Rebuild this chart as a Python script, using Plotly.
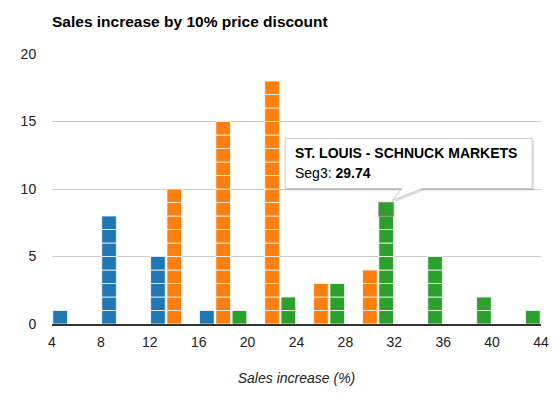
import plotly.graph_objects as go

# ---- data ----
bucket_starts = [4, 8, 12, 16, 20, 24, 28, 32, 36, 40]
bucket_size = 4
series_names = ["Seg1", "Seg2", "Seg3"]
seg1_counts = [1, 8, 5, 1, 0, 0, 0, 0, 0, 0]
seg2_counts = [0, 0, 10, 15, 18, 3, 4, 0, 0, 0]
seg3_counts = [0, 0, 0, 1, 2, 3, 9, 5, 2, 1]
series_colors = ["#1f77b4", "#ff7f0e", "#2ca02c"]
x_ticks = [4, 8, 12, 16, 20, 24, 28, 32, 36, 40, 44]
y_ticks = [0, 5, 10, 15, 20]

# highlighted item (tooltip)
hl_series = 2
hl_bucket = 28
hl_label = "ST. LOUIS - SCHNUCK MARKETS"
hl_value = 29.74

FONT = "Arial, Liberation Sans, sans-serif"
fig = go.Figure()

all_counts = [seg1_counts, seg2_counts, seg3_counts]
for si, counts in enumerate(all_counts):
    xs, bases, lcol, lw = [], [], [], []
    for b, c in zip(bucket_starts, counts):
        for k in range(c):
            xs.append(b + bucket_size / 2)
            bases.append(k)
            is_hl = (si == hl_series and b == hl_bucket and k == c - 1)
            lcol.append("rgba(130,130,130,0.65)" if is_hl else "rgba(255,255,255,0.75)")
            lw.append(1.6 if is_hl else 1)
    fig.add_trace(go.Bar(
        x=xs, y=[1] * len(xs), base=bases, name=series_names[si],
        marker=dict(color=series_colors[si], line=dict(color=lcol, width=lw)),
        hoverinfo="skip", showlegend=False,
    ))

# tooltip anchored at the highlighted block
hl_idx = bucket_starts.index(hl_bucket)
ax_x = hl_bucket + bucket_size / 2 + (hl_series - 1) * bucket_size / 3
ax_y = all_counts[hl_series][hl_idx]

L, R, T, B = -101, 146, 64, 14  # box extents in px relative to anchor (up positive)
box_path = (f"M {L},{T} L {R},{T} L {R},{B} L {36},{B} L 6,2 L {16},{B} L {L},{B} Z")
shadow_path = (f"M {L+2},{T-2} L {R+2},{T-2} L {R+2},{B-2} L {38},{B-2} L 8,0 L {18},{B-2} L {L+2},{B-2} Z")
fig.add_shape(type="path", xref="x", yref="y", xsizemode="pixel", ysizemode="pixel",
              xanchor=ax_x, yanchor=ax_y, path=shadow_path,
              fillcolor="rgba(0,0,0,0.12)", line=dict(width=0), layer="above")
fig.add_shape(type="path", xref="x", yref="y", xsizemode="pixel", ysizemode="pixel",
              xanchor=ax_x, yanchor=ax_y, path=box_path,
              fillcolor="white", line=dict(color="#cccccc", width=1), layer="above")

fig.add_annotation(x=ax_x, y=ax_y, xref="x", yref="y", showarrow=False,
                   xanchor="left", yanchor="middle", xshift=L + 8, yshift=50,
                   text=f"<b>{hl_label}</b>", font=dict(family=FONT, size=14, color="#000"))
fig.add_annotation(x=ax_x, y=ax_y, xref="x", yref="y", showarrow=False,
                   xanchor="left", yanchor="middle", xshift=L + 8, yshift=30,
                   text=f"{series_names[hl_series]}: <b>{hl_value}</b>",
                   font=dict(family=FONT, size=14, color="#000"))

fig.update_layout(
    width=555, height=396,
    margin=dict(l=52, r=14, t=54, b=71.5, pad=0),
    paper_bgcolor="white", plot_bgcolor="white",
    barmode="group", bargap=0.0, bargroupgap=0.1,
    font=dict(family=FONT, size=14, color="#222"),
    title=dict(text="<b>Sales increase by 10% price discount</b>",
               x=0, xref="paper", xanchor="left",
               y=1 - 22 / 396, yref="container", yanchor="middle",
               font=dict(family=FONT, size=15.5, color="#000")),
    xaxis=dict(range=[x_ticks[0], x_ticks[-1]], tickvals=x_ticks,
               showgrid=False, zeroline=False,
               showline=True, linecolor="#333", linewidth=1.5,
               ticks="outside", ticklen=4, tickcolor="rgba(0,0,0,0)",
               tickfont=dict(family=FONT, size=14, color="#222"),
               automargin=False,
               title=dict(text="<i>Sales increase (%)</i>", standoff=25,
                          font=dict(family=FONT, size=14, color="#222"))),
    yaxis=dict(range=[y_ticks[0], y_ticks[-1]], tickvals=y_ticks,
               showgrid=True, gridcolor="#cccccc", gridwidth=1, zeroline=False,
               ticks="outside", ticklen=12, tickcolor="rgba(0,0,0,0)",
               automargin=False,
               tickfont=dict(family=FONT, size=14, color="#222")),
)

fig.write_html("out.html", config={"displayModeBar": False},
               post_script="document.body.style.margin='0';")
